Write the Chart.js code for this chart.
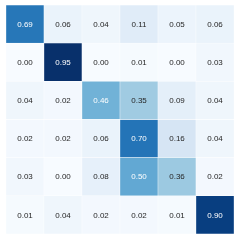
<!DOCTYPE html>
<html>
<head>
<meta charset="utf-8">
<script src="https://cdn.jsdelivr.net/npm/chart.js@4.4.1/dist/chart.umd.min.js"></script>
<style>
  html, body { margin: 0; padding: 0; background: #fff; }
  #wrap { width: 240px; height: 240px; }
</style>
</head>
<body>
<div id="wrap"><canvas id="cm" width="240" height="240"></canvas></div>
<script>
// confusion matrix, rows top -> bottom
const rowNames = ['r0', 'r1', 'r2', 'r3', 'r4', 'r5'];
const colNames = ['c0', 'c1', 'c2', 'c3', 'c4', 'c5'];
const row0 = [0.69, 0.06, 0.04, 0.11, 0.05, 0.06];
const row1 = [0.00, 0.95, 0.00, 0.01, 0.00, 0.03];
const row2 = [0.04, 0.02, 0.46, 0.35, 0.09, 0.04];
const row3 = [0.02, 0.02, 0.06, 0.70, 0.16, 0.04];
const row4 = [0.03, 0.00, 0.08, 0.50, 0.36, 0.02];
const row5 = [0.01, 0.04, 0.02, 0.02, 0.01, 0.90];
const matrix = [row0, row1, row2, row3, row4, row5];

const vmax = 0.95;
const blues = ['#f7fbff', '#deebf7', '#c6dbef', '#9ecae1', '#6baed6', '#4292c6', '#2171b5', '#08519c', '#08306b'];

function hexToRgb(h) {
    return [parseInt(h.slice(1, 3), 16), parseInt(h.slice(3, 5), 16), parseInt(h.slice(5, 7), 16)];
}

function bluesColor(v) {
    let t = Math.max(0, Math.min(1, v / vmax)) * (blues.length - 1);
    let i = Math.min(Math.floor(t), blues.length - 2);
    let f = t - i;
    const a = hexToRgb(blues[i]), b = hexToRgb(blues[i + 1]);
    const c = a.map((x, k) => Math.round(x + (b[k] - x) * f));
    return `rgb(${c[0]},${c[1]},${c[2]})`;
}

// stacked bars: bottom row first so that row0 ends up on top
const datasets = matrix.slice().reverse().map((row, idx) => ({
    label: rowNames[matrix.length - 1 - idx],
    data: row.map(() => 1),
    values: row,
    backgroundColor: row.map(bluesColor),
    borderColor: '#ffffff',
    borderWidth: 0.5,
    borderSkipped: false,
    barPercentage: 1,
    categoryPercentage: 1
}));

const cellLabels = {
    id: 'cellLabels',
    afterDatasetsDraw(chart) {
        const ctx = chart.ctx;
        ctx.save();
        ctx.font = '8px "Liberation Sans", Arial, sans-serif';
        ctx.textAlign = 'center';
        ctx.textBaseline = 'middle';
        chart.data.datasets.forEach((ds, di) => {
            const meta = chart.getDatasetMeta(di);
            meta.data.forEach((bar, j) => {
                const v = ds.values[j];
                const p = bar.getCenterPoint();
                ctx.fillStyle = v >= 0.4 ? '#ffffff' : '#262626';
                ctx.fillText(v.toFixed(2), p.x, p.y + 0.5);
            });
        });
        ctx.restore();
    }
};

new Chart(document.getElementById('cm'), {
    type: 'bar',
    data: { labels: colNames, datasets },
    options: {
        responsive: false,
        animation: false,
        layout: { padding: { left: 6, right: 6, top: 5, bottom: 6 } },
        plugins: { legend: { display: false }, tooltip: { enabled: false } },
        scales: {
            x: { stacked: true, display: false },
            y: { stacked: true, display: false, min: 0, max: 6 }
        }
    },
    plugins: [cellLabels]
});
</script>
</body>
</html>
